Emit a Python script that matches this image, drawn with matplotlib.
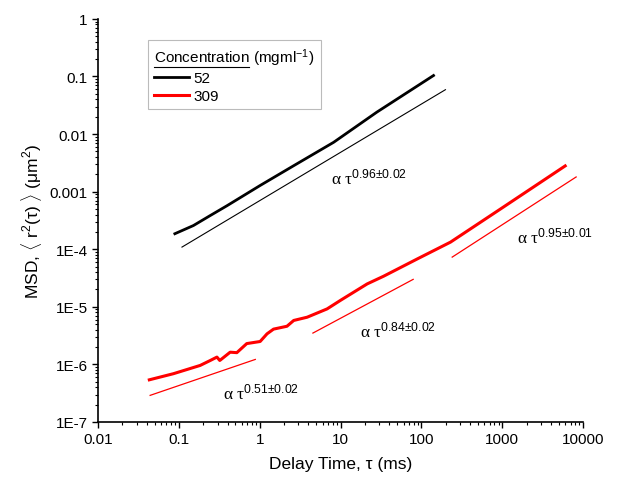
import matplotlib
matplotlib.use("Agg")
import matplotlib.pyplot as plt
from matplotlib.lines import Line2D
from matplotlib.text import Text

plt.rcParams['font.family'] = ['Liberation Sans', 'DejaVu Sans']
plt.rcParams['mathtext.fontset'] = 'custom'
plt.rcParams['mathtext.rm'] = 'Liberation Sans'
plt.rcParams['mathtext.it'] = 'Liberation Sans:italic'

# MSD curves (tau in ms, MSD in um^2)
tau_52 = [0.089, 0.151, 0.244, 0.393, 1.01, 2.6, 8.2, 28, 141]
msd_52 = [1.86e-4, 2.58e-4, 3.85e-4, 5.7e-4, 1.28e-3, 2.8e-3, 7.2e-3, 0.024, 0.104]

tau_309 = [0.043, 0.0855, 0.183, 0.244, 0.295, 0.32, 0.43, 0.52, 0.69, 1.01,
           1.23, 1.48, 2.17, 2.63, 3.85, 6.8, 10, 21.3, 34, 89, 229, 950, 6000]
msd_309 = [5.4e-7, 6.9e-7, 9.6e-7, 1.17e-6, 1.34e-6, 1.17e-6, 1.63e-6, 1.6e-6,
           2.3e-6, 2.5e-6, 3.4e-6, 4.1e-6, 4.6e-6, 5.8e-6, 6.6e-6, 9.2e-6,
           1.3e-5, 2.5e-5, 3.4e-5, 6.8e-5, 1.33e-4, 5.0e-4, 2.8e-3]

# power-law guide lines (start, end)
fit_52 = ([0.109, 198], [1.09e-4, 0.059])
fit_309 = [([0.044, 0.88], [2.9e-7, 1.22e-6]),
           ([4.54, 79], [3.5e-6, 3.0e-5]),
           ([240, 8200], [7.3e-5, 1.8e-3])]

# slope labels: (tau, msd, exponent text)
slope_labels = [(7.5, 1.8e-3, '0.96{\\pm}0.02'),
                (1520, 1.64e-4, '0.95{\\pm}0.01'),
                (17.5, 3.9e-6, '0.84{\\pm}0.02'),
                (0.35, 3.3e-7, '0.51{\\pm}0.02')]

xticks = [0.01, 0.1, 1, 10, 100, 1000, 10000]
xticklabels = ['0.01', '0.1', '1', '10', '100', '1000', '10000']
yticks = [1e-7, 1e-6, 1e-5, 1e-4, 1e-3, 1e-2, 1e-1, 1]
yticklabels = ['1E-7', '1E-6', '1E-5', '1E-4', '0.001', '0.01', '0.1', '1']

fig = plt.figure(figsize=(6.21, 4.81), dpi=100)
ax = fig.add_axes([0.158, 0.1206, 0.781, 0.838])

ax.plot(tau_52, msd_52, color='black', lw=2.0, label='52')
ax.plot(tau_309, msd_309, color='#ff0000', lw=2.2, label='309')

ax.plot(fit_52[0], fit_52[1], color='black', lw=0.8)
for xs, ys in fit_309:
    ax.plot(xs, ys, color='#ff0000', lw=0.9)

for x, y, s in slope_labels:
    ax.text(x, y, 'α τ$^{\\mathrm{' + s + '}}$', fontsize=12.5,
            family=['Liberation Serif', 'DejaVu Serif'], va='center', ha='left')

ax.set_xscale('log')
ax.set_yscale('log')
ax.set_xlim(0.01, 10000)
ax.set_ylim(1e-7, 1)
ax.set_xticks(xticks, labels=xticklabels)
ax.set_yticks(yticks, labels=yticklabels)
ax.tick_params(which='major', direction='out', length=4.5, width=1, labelsize=11, pad=3)
ax.tick_params(which='minor', direction='out', length=2.5, width=0.8)
ax.spines['top'].set_visible(False)
ax.spines['right'].set_visible(False)
ax.spines['left'].set_linewidth(1.2)
ax.spines['bottom'].set_linewidth(1.2)

ax.set_xlabel('Delay Time, τ (ms)', fontsize=12.5, labelpad=7)
ax.set_ylabel(r'MSD, $\langle$ r$^2$(τ) $\rangle$ (μm$^2$)', fontsize=12.5, labelpad=4)

leg = ax.legend(title='Concentration (mgml$^{-1}$)', loc='upper left',
                bbox_to_anchor=(0.103, 0.948), borderaxespad=0,
                fontsize=11, title_fontsize=11,
                handlelength=2.3, handletextpad=0.25, labelspacing=0.25,
                borderpad=0.4, fancybox=False, frameon=True, alignment='left')
leg.get_frame().set_edgecolor('#aaaaaa')
leg.get_frame().set_linewidth(0.8)

# underline the word "Concentration" in the legend title
fig.canvas.draw()
renderer = fig.canvas.get_renderer()
bb = leg.get_title().get_window_extent(renderer)
word = Text(0, 0, 'Concentration', fontsize=11,
            family=['Liberation Sans', 'DejaVu Sans'])
word.set_figure(fig)
wb = word.get_window_extent(renderer)
x0 = bb.x0 / fig.bbox.width
x1 = (bb.x0 + wb.width) / fig.bbox.width
yy = (bb.y0 + 1) / fig.bbox.height
fig.add_artist(Line2D([x0, x1], [yy, yy], color='black', lw=0.8))

fig.savefig('out.png', dpi=100)
